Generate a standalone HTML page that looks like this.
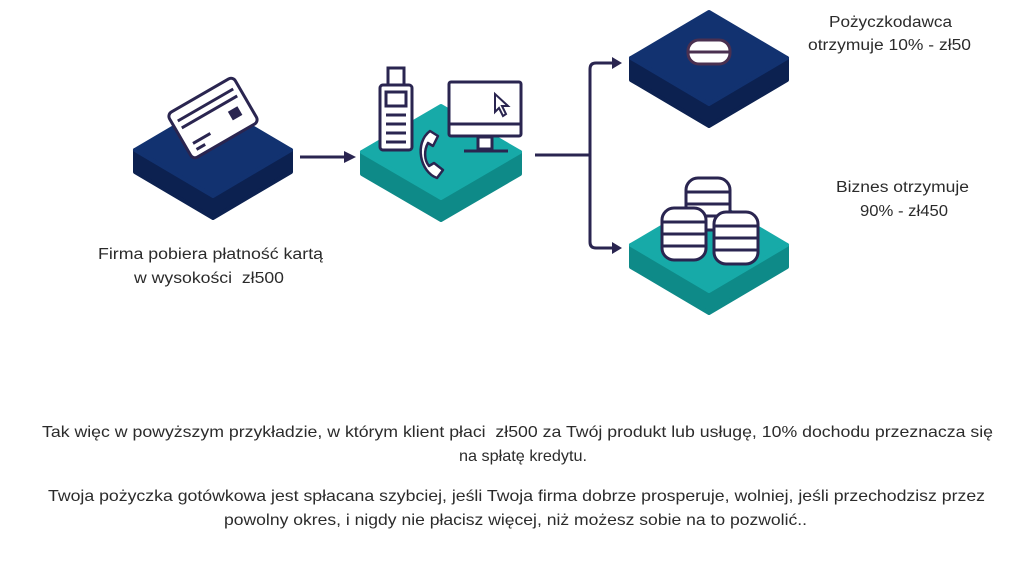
<!DOCTYPE html>
<html><head><meta charset="utf-8"><style>
html,body{margin:0;padding:0;background:#fff;}
svg{display:block;}
text{font-family:"Liberation Sans",sans-serif;fill:#2b2b2b;}
</style></head><body>
<svg width="1024" height="574" viewBox="0 0 1024 574" xmlns="http://www.w3.org/2000/svg">
<!-- tile 1 navy -->
<g stroke-linejoin="round" stroke-width="4">
<path d="M135,150 L213,196 L291,150 L291,172 L213,218 L135,172 Z" fill="#0c2150" stroke="#0c2150"/>
<path d="M135,150 L213,104 L291,150 L213,196 Z" fill="#123270" stroke="#123270"/>
</g>
<!-- card -->
<g transform="translate(213,118) rotate(-30)">
<rect x="-38" y="-26" width="76" height="52" rx="5" fill="#fff" stroke="#2a2550" stroke-width="3"/>
<line x1="-32" y1="-15" x2="32" y2="-15" stroke="#2a2550" stroke-width="3"/>
<line x1="-32" y1="-7" x2="32" y2="-7" stroke="#2a2550" stroke-width="3"/>
<rect x="16" y="2" width="11" height="10" fill="#2a2550"/>
<line x1="-30" y1="12" x2="-10" y2="12" stroke="#2a2550" stroke-width="3"/>
<line x1="-30" y1="19" x2="-20" y2="19" stroke="#2a2550" stroke-width="3"/>
</g>
<!-- tile 2 teal -->
<g stroke-linejoin="round" stroke-width="4">
<path d="M362,152 L441,198 L520,152 L520,174 L441,220 L362,174 Z" fill="#0e8a88" stroke="#0e8a88"/>
<path d="M362,152 L441,106 L520,152 L441,198 Z" fill="#17aaa8" stroke="#17aaa8"/>
</g>
<!-- phone handset -->
<g stroke="#2a2550" stroke-width="3" fill="#fff">
<rect x="388" y="68" width="16" height="30"/>
<rect x="380" y="85" width="32" height="65" rx="3"/>
<rect x="386" y="92" width="20" height="14"/>
<line x1="386" y1="115" x2="406" y2="115"/>
<line x1="386" y1="124" x2="406" y2="124"/>
<line x1="386" y1="133" x2="406" y2="133"/>
<line x1="386" y1="142" x2="406" y2="142"/>
</g>
<path d="M430,131 L438,136 L433,146 L428,143 C424,150 424,160 429,166 L434,163 L443,170 L437,178 C420,172 414,143 430,131 Z" fill="#fff" stroke="#2a2550" stroke-width="2.5" stroke-linejoin="round"/>
<!-- monitor -->
<g stroke="#2a2550" stroke-width="3">
<rect x="449" y="82" width="72" height="54" rx="2" fill="#fff"/>
<line x1="449" y1="124" x2="521" y2="124"/>
<rect x="478" y="137" width="14" height="12" fill="#fff"/>
<line x1="464" y1="151" x2="508" y2="151"/>
</g>
<path d="M495,94 L495,112 L499,108 L503,116 L506,114 L502,106 L508,106 Z" fill="#fff" stroke="#2a2550" stroke-width="2"/>
<!-- tile 3 navy -->
<g stroke-linejoin="round" stroke-width="4">
<path d="M631,58 L709,104 L787,58 L787,80 L709,126 L631,80 Z" fill="#0c2150" stroke="#0c2150"/>
<path d="M631,58 L709,12 L787,58 L709,104 Z" fill="#123270" stroke="#123270"/>
</g>
<g stroke="#4a3050" stroke-width="3" fill="#fff">
<rect x="688" y="40" width="42" height="24" rx="11"/>
<line x1="689" y1="52" x2="729" y2="52"/>
</g>
<!-- tile 4 teal -->
<g stroke-linejoin="round" stroke-width="4">
<path d="M631,245 L709,291 L787,245 L787,267 L709,313 L631,267 Z" fill="#0e8a88" stroke="#0e8a88"/>
<path d="M631,245 L709,199 L787,245 L709,291 Z" fill="#17aaa8" stroke="#17aaa8"/>
</g>
<g stroke="#2a2550" stroke-width="3" fill="#fff">
<rect x="686" y="178" width="44" height="52" rx="12"/>
<line x1="687" y1="192" x2="729" y2="192"/><line x1="687" y1="204" x2="729" y2="204"/><line x1="687" y1="216" x2="729" y2="216"/>
<rect x="662" y="208" width="44" height="52" rx="12"/>
<line x1="663" y1="222" x2="705" y2="222"/><line x1="663" y1="234" x2="705" y2="234"/><line x1="663" y1="246" x2="705" y2="246"/>
<rect x="714" y="212" width="44" height="52" rx="12"/>
<line x1="715" y1="226" x2="757" y2="226"/><line x1="715" y1="238" x2="757" y2="238"/><line x1="715" y1="250" x2="757" y2="250"/>
</g>
<!-- connectors -->
<line x1="300" y1="157" x2="346" y2="157" stroke="#2a2550" stroke-width="3"/>
<path d="M344,151 L356,157 L344,163 z" fill="#2a2550"/>
<line x1="535" y1="155" x2="590" y2="155" stroke="#2a2550" stroke-width="3"/>
<path d="M614,63 L596,63 Q590,63 590,69 L590,242 Q590,248 596,248 L614,248" fill="none" stroke="#2a2550" stroke-width="3"/>
<path d="M612,57 L622,63 L612,69 z" fill="#2a2550"/>
<path d="M612,242 L622,248 L612,254 z" fill="#2a2550"/>
<!-- labels -->
<g font-size="15.5">
<text x="98" y="259" textLength="225" lengthAdjust="spacingAndGlyphs">Firma pobiera płatność kartą</text>
<text x="134" y="283" textLength="150" lengthAdjust="spacingAndGlyphs">w wysokości&#160; zł500</text>
<text x="829" y="27" textLength="123" lengthAdjust="spacingAndGlyphs">Pożyczkodawca</text>
<text x="808" y="50" textLength="163" lengthAdjust="spacingAndGlyphs">otrzymuje 10% - zł50</text>
<text x="836" y="192" textLength="133" lengthAdjust="spacingAndGlyphs">Biznes otrzymuje</text>
<text x="860" y="216" textLength="88" lengthAdjust="spacingAndGlyphs">90% - zł450</text>
</g>
<g font-size="16">
<text x="42" y="437" textLength="951" lengthAdjust="spacingAndGlyphs">Tak więc w powyższym przykładzie, w którym klient płaci&#160; zł500 za Twój produkt lub usługę, 10% dochodu przeznacza się</text>
<text x="459" y="461" textLength="128" lengthAdjust="spacingAndGlyphs">na spłatę kredytu.</text>
<text x="48" y="501" textLength="937" lengthAdjust="spacingAndGlyphs">Twoja pożyczka gotówkowa jest spłacana szybciej, jeśli Twoja firma dobrze prosperuje, wolniej, jeśli przechodzisz przez</text>
<text x="224" y="525" textLength="583" lengthAdjust="spacingAndGlyphs">powolny okres, i nigdy nie płacisz więcej, niż możesz sobie na to pozwolić..</text>
</g>
</svg>
</body></html>
